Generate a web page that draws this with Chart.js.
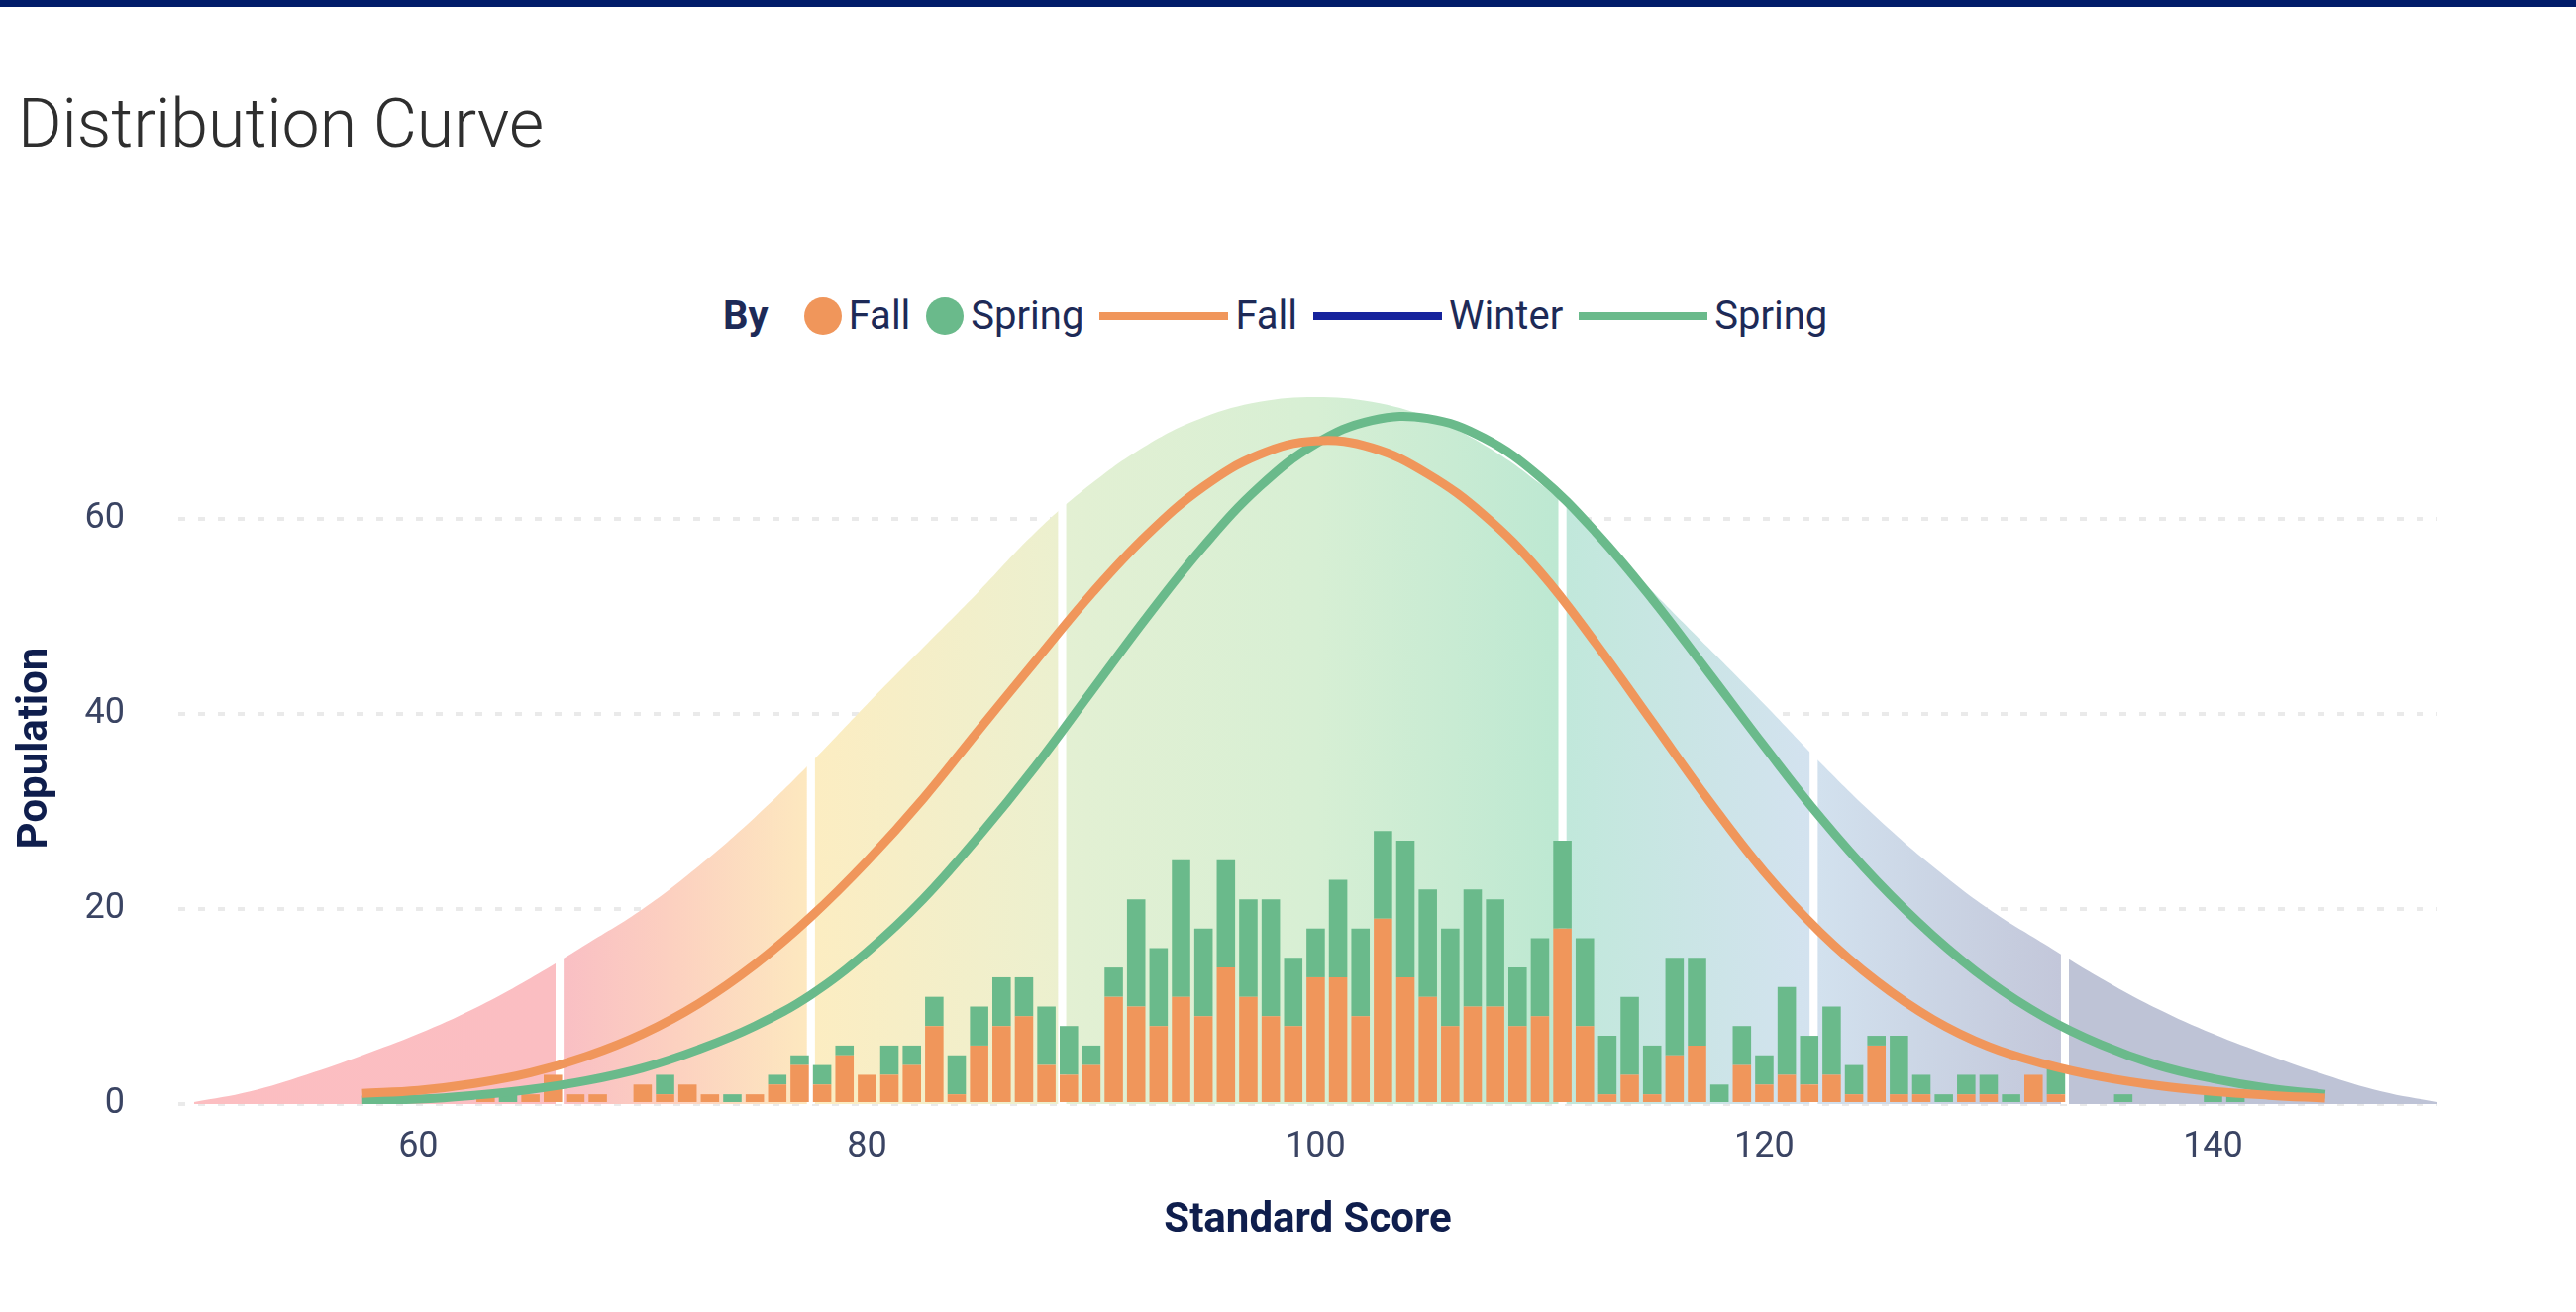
<!DOCTYPE html>
<html>
<head>
<meta charset="utf-8">
<title>Distribution Curve</title>
<script src="https://cdn.jsdelivr.net/npm/chart.js@4.4.1/dist/chart.umd.min.js"></script>
<style>
    html, body { margin: 0; padding: 0; background: #fff; }
    body { width: 2601px; height: 1325px; position: relative; overflow: hidden; font-family: Roboto, 'Open Sans', sans-serif; }
    .top-bar { position: absolute; left: 0; top: 0; width: 100%; height: 7px; background: #011c6a; }
    .title { position: absolute; left: 18px; top: 91px; font-size: 68px; font-weight: 300; line-height: 1; color: #2e2e2e; white-space: nowrap; }
    .legend { position: absolute; left: 730px; top: 295px; height: 47px; display: flex; align-items: center; font-size: 40px; color: #1d2a57; white-space: nowrap; }
    .legend .by { font-weight: 700; margin-right: 36px; }
    .legend .item { display: flex; align-items: center; margin-right: 16px; }
    .legend .dot { width: 38px; height: 38px; border-radius: 50%; margin-right: 7px; }
    .legend .line { width: 130px; height: 8px; margin-right: 7px; }
    #chart { position: absolute; left: 0; top: 0; }
</style>
</head>
<body>
<div class="top-bar"></div>
<div class="title">Distribution Curve</div>
<div class="legend" id="legend"></div>
<canvas id="chart" width="2601" height="1325"></canvas>

<script>
(function() {
    'use strict';

    // Histogram: number of students per standard score
    var scores = [63, 64, 65, 66, 67, 68, 69, 70, 71, 72,
        73, 74, 75, 76, 77, 78, 79, 80, 81, 82,
        83, 84, 85, 86, 87, 88, 89, 90, 91, 92,
        93, 94, 95, 96, 97, 98, 99, 100, 101, 102,
        103, 104, 105, 106, 107, 108, 109, 110, 111, 112,
        113, 114, 115, 116, 117, 118, 119, 120, 121, 122,
        123, 124, 125, 126, 127, 128, 129, 130, 131, 132,
        133, 134, 135, 136, 137, 138, 139, 140, 141];
    var fallCounts = [1, 0, 1, 3, 1, 1, 0, 2, 1, 2,
        1, 0, 1, 2, 4, 2, 5, 3, 3, 4,
        8, 1, 6, 8, 9, 4, 3, 4, 11, 10,
        8, 11, 9, 14, 11, 9, 8, 13, 13, 9,
        19, 13, 11, 8, 10, 10, 8, 9, 18, 8,
        1, 3, 1, 5, 6, 0, 4, 2, 3, 2,
        3, 1, 6, 1, 1, 0, 1, 1, 0, 3,
        1, 0, 0, 0, 0, 0, 0, 0, 0];
    var springCounts = [0, 1, 0, 0, 0, 0, 0, 0, 2, 0,
        0, 1, 0, 1, 1, 2, 1, 0, 3, 2,
        3, 4, 4, 5, 4, 6, 5, 2, 3, 11,
        8, 14, 9, 11, 10, 12, 7, 5, 10, 9,
        9, 14, 11, 10, 12, 11, 6, 8, 9, 9,
        6, 8, 5, 10, 9, 2, 4, 3, 9, 5,
        7, 3, 1, 6, 2, 1, 2, 2, 1, 0,
        3, 0, 0, 1, 0, 0, 0, 1, 1];

    // Fitted distribution curves per term
    var curveScores = [57.5, 60, 62.5, 65, 67.5, 70, 72.5, 75, 77.5, 80,
        82.5, 85, 87.5, 90, 92.5, 95, 97.5, 100, 102.5, 105,
        107.5, 110, 112.5, 115, 117.5, 120, 122.5, 125, 127.5, 130,
        132.5, 135, 137.5, 140, 142.5, 145];
    var fallCurve = [1.1, 1.4, 2.1, 3.2, 4.9, 7.2, 10.3, 14.3, 19.2, 24.9,
        31.3, 38.4, 45.4, 52.3, 58.4, 63.3, 66.6, 68.0, 67.3, 64.6,
        60.4, 54.6, 47.2, 39.2, 31.2, 23.8, 17.6, 12.6, 8.7, 5.9,
        4.1, 2.8, 1.9, 1.3, 0.9, 0.6];
    var winterCurve = [];
    var springCurve = [0.4, 0.5, 0.9, 1.5, 2.4, 3.7, 5.6, 8.0, 11.2, 15.6,
        21.0, 27.5, 34.6, 42.3, 50.0, 57.2, 63.3, 67.7, 70.1, 70.3,
        68.3, 64.3, 58.6, 51.8, 44.3, 36.7, 29.4, 22.9, 17.3, 12.6,
        8.9, 6.1, 4.0, 2.6, 1.6, 1.0];

    // Reference bell behind everything, split into bands
    var bellScores = [50, 52.5, 55, 57.5, 60, 62.5, 65, 67.5, 70, 72.5,
        75, 77.5, 80, 82.5, 85, 87.5, 90, 92.5, 95, 97.5,
        100, 102.5, 105, 107.5, 110, 112.5, 115, 117.5, 120, 122.5,
        125, 127.5, 130, 132.5, 135, 137.5, 140, 142.5, 145, 147.5, 150];
    var bellValues = [0.2, 1.3, 3.0, 5.0, 7.2, 9.8, 12.9, 16.4, 20.0, 24.4,
        29.4, 35.0, 41.0, 46.8, 52.6, 58.6, 63.6, 67.6, 70.4, 72.0,
        72.5, 72.0, 70.4, 67.6, 63.6, 58.6, 52.6, 46.8, 41.0, 35.0,
        29.4, 24.4, 20.0, 16.4, 12.9, 9.8, 7.2, 5.0, 3.0, 1.3, 0.2];
    var bandEdges = [66.3, 77.5, 88.7, 111.0, 122.2, 133.4];

    var xTicks = [60, 80, 100, 120, 140];
    var yTicks = [0, 20, 40, 60];

    // styles
    var ORANGE = '#f0965b';
    var GREEN = '#6aba8b';
    var NAVY = '#16239c';
    var TICK_COLOR = '#3a4463';
    var TITLE_COLOR = '#0f1e4d';
    var FONT = "Roboto, 'Open Sans', sans-serif";
    var GAP = 0.16;
    var bellShades = [
        [50, '#fcbec1'], [66.1, '#fbbec2'],
        [66.5, '#f9bfc4'], [71, '#fccfc0'], [77.3, '#fde8bf'],
        [77.7, '#fcedc2'], [88.5, '#ecf0cf'],
        [88.9, '#e3f0d3'], [100, '#d7efd4'], [110.8, '#bde8d2'],
        [111.2, '#c1e8db'], [122.0, '#d3e2ef'],
        [122.4, '#d2e1ee'], [133.2, '#c3c7da'],
        [133.6, '#bec3d6'], [150, '#bec3d6']
    ];

    function points(xs, ys) {
        return ys.map(function(y, i) {
            return { x: xs[i], y: y };
        });
    }

    function bellFill(context) {
        var chart = context.chart;
        var xScale = chart.scales.x;
        if (!chart.chartArea || !xScale) return '#d7efd4';

        var x0 = xScale.getPixelForValue(bellScores[0]);
        var x1 = xScale.getPixelForValue(bellScores[bellScores.length - 1]);
        var grad = chart.ctx.createLinearGradient(x0, 0, x1, 0);

        var stops = bellShades.slice();
        bandEdges.forEach(function(e) {
            stops.push([e - GAP, '#ffffff']);
            stops.push([e + GAP, '#ffffff']);
        });
        stops.sort(function(a, b) { return a[0] - b[0]; });

        stops.forEach(function(s) {
            var t = (xScale.getPixelForValue(s[0]) - x0) / (x1 - x0);
            grad.addColorStop(Math.min(1, Math.max(0, t)), s[1]);
        });
        return grad;
    }

    var lineDefaults = {
        type: 'line',
        yAxisID: 'yl',
        borderWidth: 9,
        pointRadius: 0,
        fill: false,
        tension: 0.4,
        order: 0
    };

    var datasets = [
        {
            type: 'bar', label: 'Fall', legendMarker: 'dot',
            data: points(scores, fallCounts),
            backgroundColor: ORANGE, stack: 'scores', yAxisID: 'y', order: 1,
            barPercentage: 0.82, categoryPercentage: 1
        },
        {
            type: 'bar', label: 'Spring', legendMarker: 'dot',
            data: points(scores, springCounts),
            backgroundColor: GREEN, stack: 'scores', yAxisID: 'y', order: 1,
            barPercentage: 0.82, categoryPercentage: 1
        },
        Object.assign({}, lineDefaults, {
            label: 'Fall', legendMarker: 'line',
            data: points(curveScores, fallCurve), borderColor: ORANGE
        }),
        Object.assign({}, lineDefaults, {
            label: 'Winter', legendMarker: 'line',
            data: points(curveScores, winterCurve), borderColor: NAVY
        }),
        Object.assign({}, lineDefaults, {
            label: 'Spring', legendMarker: 'line',
            data: points(curveScores, springCurve), borderColor: GREEN
        }),
        {
            type: 'line', label: 'Bell', yAxisID: 'yl',
            data: points(bellScores, bellValues),
            fill: 'origin', backgroundColor: bellFill,
            borderWidth: 0, pointRadius: 0,
            tension: 0.4, order: 2
        }
    ];

    var chart = new Chart(document.getElementById('chart'), {
        type: 'bar',
        data: { datasets: datasets },
        options: {
            responsive: false,
            animation: false,
            devicePixelRatio: 1,
            layout: { padding: { top: 396, right: 140, left: 0, bottom: 0 } },
            plugins: {
                legend: { display: false },
                tooltip: { enabled: false },
                title: { display: false }
            },
            scales: {
                x: {
                    type: 'linear',
                    min: 49.3,
                    max: 150,
                    offset: false,
                    stacked: true,
                    afterFit: function(s) { s.height = 210; },
                    afterBuildTicks: function(s) {
                        s.ticks = xTicks.map(function(v) { return { value: v }; });
                    },
                    grid: { display: false, drawTicks: false },
                    border: { display: false },
                    ticks: {
                        padding: 22, color: TICK_COLOR, maxRotation: 0, autoSkip: false,
                        font: { family: FONT, size: 36 }
                    },
                    title: {
                        display: true, text: 'Standard Score', color: TITLE_COLOR,
                        font: { family: FONT, size: 42, weight: 'bold' },
                        padding: { top: 0, bottom: 66 }
                    }
                },
                y: {
                    stacked: true,
                    min: 0,
                    max: 73,
                    z: 1,
                    afterFit: function(s) { s.width = 180; },
                    afterBuildTicks: function(s) {
                        s.ticks = yTicks.map(function(v) { return { value: v }; });
                    },
                    grid: { color: 'rgba(150,150,150,0.2)', lineWidth: 4, drawTicks: false },
                    border: { display: false, dash: [7, 13] },
                    ticks: {
                        padding: 54, color: TICK_COLOR,
                        font: { family: FONT, size: 36 }
                    },
                    title: {
                        display: true, text: 'Population', color: TITLE_COLOR,
                        font: { family: FONT, size: 42, weight: 'bold' },
                        padding: { top: 11, bottom: 0 }
                    }
                },
                yl: {
                    display: false,
                    min: 0,
                    max: 73
                }
            }
        }
    });

    // Legend: "By" followed by one entry per series marker
    var legendHtml = '<span class="by">By</span>';
    chart.data.datasets.forEach(function(ds) {
        if (!ds.legendMarker) return;
        var color = ds.backgroundColor;
        if (ds.legendMarker === 'line') color = ds.borderColor;
        legendHtml += '<span class="item"><span class="' + ds.legendMarker +
            '" style="background:' + color + '"></span>' + ds.label + '</span>';
    });
    document.getElementById('legend').innerHTML = legendHtml;
})();
</script>
</body>
</html>
